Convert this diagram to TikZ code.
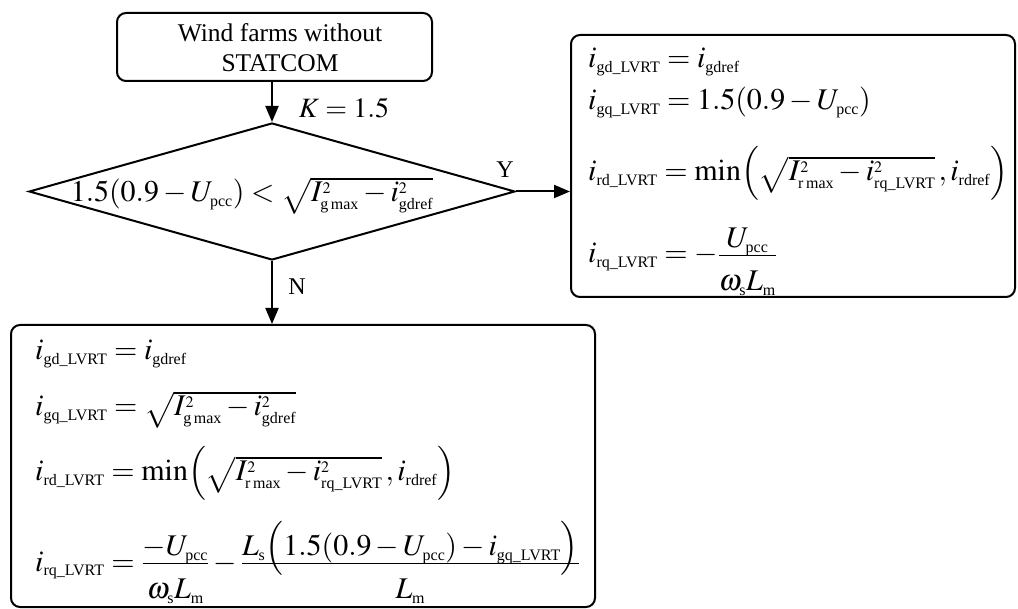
\documentclass[tikz,border=0pt]{standalone}
\usepackage{amsmath}
\usepackage{mathptmx}
\usepackage{fontspec}
\setmainfont{Liberation Serif}
\usetikzlibrary{shapes.geometric,arrows.meta}
\DeclareMathSizes{30}{30}{16}{12}
\DeclareMathSizes{28}{28}{15}{11}
\newcommand{\sub}[1]{\text{#1}}
\newcommand{\fnum}[1]{\smash{\raisebox{-5pt}{$#1$}}}
\newcommand{\fden}[1]{\rule{0pt}{31pt}#1}
\begin{document}
\begin{tikzpicture}[x=1pt,y=-1pt,
  box/.style={draw,line width=2pt,rounded corners=9pt,inner sep=0pt},
  arr/.style={line width=2pt,-{Triangle[length=16pt,width=13pt]}},
  eq/.style={anchor=base west,inner sep=0pt,font=\fontsize{30}{36}\selectfont},
  lbl/.style={inner sep=0pt,font=\fontsize{24}{30}\selectfont}]
\useasboundingbox (0,0) rectangle (1018,609);
% start box
\node[box,minimum width=315pt,minimum height=68pt] (tb) at (274.5,47) {};
\node[inner sep=0pt,align=center,font=\fontsize{25.5}{30}\selectfont] (tbt) at (280,48) {Wind farms without\\STATCOM};
% decision
\node[draw,diamond,line width=2pt,minimum width=486pt,minimum height=137pt,inner sep=0pt] (d) at (272,191.5) {};
\node[eq,anchor=base] (dt) at (252,202) {$1.5(0.9-U_{\sub{pcc}})<\sqrt{I_{\sub{g\,max}}^2-i_{\sub{gdref}}^2}$};
% right box
\node[box,minimum width=444pt,minimum height=262pt] (rb) at (793,166) {};
\node[eq] (r1) at (588,68) {$i_{\sub{gd\_LVRT}}=i_{\sub{gdref}}$};
\node[eq] (r2) at (588,110) {$i_{\sub{gq\_LVRT}}=1.5(0.9-U_{\sub{pcc}})$};
\node[eq] (r3) at (588,181) {$i_{\sub{rd\_LVRT}}=\min\Bigl(\sqrt{I_{\sub{r\,max}}^2-i_{\sub{rq\_LVRT}}^2}\,,i_{\sub{rdref}}\Bigr)$};
\node[eq] (r4) at (588,263) {$\displaystyle i_{\sub{rq\_LVRT}}=-\frac{\fnum{U_{\sub{pcc}}}}{\fden{\omega_{\sub{s}}L_{\sub{m}}}}$};
% bottom box
\node[box,minimum width=584pt,minimum height=282pt] (bb) at (303,466) {};
\node[eq] (b1) at (35,360) {$i_{\sub{gd\_LVRT}}=i_{\sub{gdref}}$};
\node[eq] (b2) at (35,416) {$i_{\sub{gq\_LVRT}}=\sqrt{I_{\sub{g\,max}}^2-i_{\sub{gdref}}^2}$};
\node[eq] (b3) at (35,481) {$i_{\sub{rd\_LVRT}}=\min\Bigl(\sqrt{I_{\sub{r\,max}}^2-i_{\sub{rq\_LVRT}}^2}\,,i_{\sub{rdref}}\Bigr)$};
\node[eq] (b4) at (35,571) {$\displaystyle i_{\sub{rq\_LVRT}}=\frac{\fnum{-U_{\sub{pcc}}}}{\fden{\omega_{\sub{s}}L_{\sub{m}}}}-\frac{\fnum{L_{\sub{s}}\Bigl(1.5(0.9-U_{\sub{pcc}})-i_{\sub{gq\_LVRT}}\Bigr)}}{\fden{L_{\sub{m}}}}$};
% labels
\node[inner sep=0pt,font=\fontsize{28}{32}\selectfont] (k) at (344,108) {$K=1.5$};
\node[lbl] (y) at (505,170) {Y};
\node[lbl] (n) at (297,287) {N};
% connectors
\draw[arr] (tb.south -| d.north) -- (d.north);
\draw[arr] (d.east) -- (d.east -| rb.west);
\draw[arr] (d.south) -- (d.south |- bb.north);
\end{tikzpicture}
\end{document}
